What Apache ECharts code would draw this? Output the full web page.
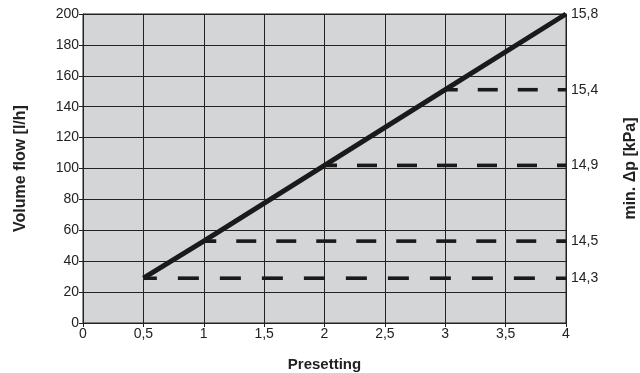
<!DOCTYPE html>
<html>
<head>
<meta charset="utf-8">
<script src="https://cdn.jsdelivr.net/npm/echarts@6/dist/echarts.min.js"></script>
<style>html,body{margin:0;padding:0;background:#fff}#c{width:640px;height:373px}</style>
</head>
<body>
<div id="c"></div>
<script>
// Data
const presetting = [0.5, 1, 2, 3, 4];
const flow = [29, 53, 102, 151, 200];
const dpLabels = ['14,3', '14,5', '14,9', '15,4', '15,8'];
const xMax = 4;

const FONT = '"Liberation Sans", Arial, sans-serif';
const INK = '#1a1a1a';

const chart = echarts.init(document.getElementById('c'), null, {renderer: 'canvas'});

const series = [];
for (let i = 0; i < presetting.length - 1; i++) {
  series.push({
    type: 'line',
    data: [[presetting[i], flow[i]], [xMax, flow[i]]],
    symbol: 'none',
    silent: true,
    z: 3,
    lineStyle: {color: INK, width: 3.6, type: i === 0 ? [21, 21] : [20, 20], dashOffset: 7.5, cap: 'butt'}
  });
}
series.push({
  type: 'line',
  data: presetting.map((p, i) => [p, flow[i]]),
  symbol: 'none',
  silent: true,
  z: 4,
  lineStyle: {color: INK, width: 5, cap: 'butt'}
});

chart.setOption({
  animation: false,
  textStyle: {fontFamily: FONT},
  grid: {left: 83, right: 74, top: 14, bottom: 50, outerBoundsMode: 'none', containLabel: false,
    show: true, backgroundColor: '#d4d5d7', borderColor: '#222', borderWidth: 1},
  xAxis: {
    type: 'value', min: 0, max: xMax, interval: 0.5,
    name: 'Presetting', nameLocation: 'middle', nameGap: 34,
    nameTextStyle: {fontFamily: FONT, fontSize: 15, fontWeight: 'bold', color: '#222'},
    axisLine: {show: true, lineStyle: {color: '#222', width: 1}},
    axisTick: {show: true, length: 4, lineStyle: {color: '#222'}},
    axisLabel: {fontFamily: FONT, fontSize: 14, color: '#222', margin: 4,
      formatter: v => String(v).replace('.', ',')},
    splitLine: {show: true, lineStyle: {color: '#222', width: 1}}
  },
  yAxis: [{
    type: 'value', min: 0, max: 200, interval: 20, position: 'left',
    name: 'Volume flow [l/h]', nameLocation: 'middle', nameGap: 54, nameRotate: 90,
    nameTextStyle: {fontFamily: FONT, fontSize: 16, fontWeight: 'bold', color: '#222'},
    axisLine: {show: true, lineStyle: {color: '#222', width: 1}},
    axisTick: {show: true, length: 4, lineStyle: {color: '#222'}},
    axisLabel: {fontFamily: FONT, fontSize: 14, color: '#222', margin: 4},
    splitLine: {show: true, lineStyle: {color: '#222', width: 1}}
  }, {
    type: 'value', min: 0, max: 200, position: 'right',
    name: 'min. Δp [kPa]', nameLocation: 'middle', nameGap: 57, nameRotate: 90,
    nameTextStyle: {fontFamily: FONT, fontSize: 16, fontWeight: 'bold', color: '#222'},
    axisLine: {show: true, lineStyle: {color: '#222', width: 1}},
    axisTick: {show: false},
    axisLabel: {fontFamily: FONT, fontSize: 14, color: '#222', margin: 5,
      customValues: flow,
      formatter: v => { const k = flow.indexOf(v); return k >= 0 ? dpLabels[k] : ''; }},
    splitLine: {show: false}
  }],
  series: series
});
</script>
</body>
</html>
